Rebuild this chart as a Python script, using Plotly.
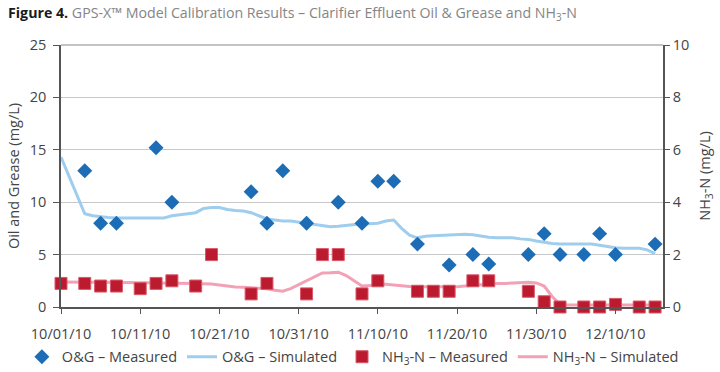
import pandas as pd
import plotly.graph_objects as go

start_date = "2010-10-01"

# O&G measured (day offset from 10/01/10, mg/L)
og_meas_days = [3, 5, 7, 12, 14, 24, 26, 28, 31, 35, 38, 40, 42, 45, 49, 52, 54, 59, 61, 63, 66, 68, 70, 75]
og_meas_vals = [13, 8, 8, 15.2, 10, 11, 8, 13, 8, 10, 8, 12, 12, 6, 4, 5, 4.1, 5, 7, 5, 5, 7, 5, 6]

# NH3-N measured
nh3_meas_days = [0, 3, 5, 7, 10, 12, 14, 17, 19, 24, 26, 31, 33, 35, 38, 40, 45, 47, 49, 52, 54, 59, 61, 63, 66, 68, 70, 73, 75]
nh3_meas_vals = [0.9, 0.9, 0.8, 0.8, 0.7, 0.9, 1.0, 0.8, 2.0, 0.5, 0.9, 0.5, 2.0, 2.0, 0.5, 1.0, 0.6, 0.6, 0.6, 1.0, 1.0, 0.6, 0.2, 0, 0, 0, 0.1, 0, 0]

# O&G simulated (daily)
og_sim_days = list(range(0, 76))
og_sim_vals = [14.3, 12.5, 10.6, 8.9, 8.7, 8.6, 8.55, 8.5, 8.5, 8.5,
               8.5, 8.5, 8.5, 8.5, 8.7, 8.8, 8.9, 9.0, 9.4, 9.5,
               9.5, 9.3, 9.2, 9.15, 9.0, 8.7, 8.4, 8.3, 8.2, 8.2,
               8.1, 8.0, 7.9, 7.75, 7.65, 7.7, 7.8, 7.9, 7.95, 7.95,
               8.0, 8.2, 8.3, 7.5, 6.85, 6.6, 6.75, 6.8, 6.85, 6.9,
               6.9, 6.95, 6.9, 6.75, 6.65, 6.6, 6.6, 6.6, 6.5, 6.45,
               6.3, 6.15, 6.05, 6.0, 6.0, 6.0, 6.0, 6.0, 5.9, 5.75,
               5.65, 5.6, 5.6, 5.6, 5.45, 5.1]

# NH3-N simulated (daily)
nh3_sim_days = list(range(0, 76))
nh3_sim_vals = [0.95, 0.95, 0.95, 0.95, 0.95, 0.95, 0.95, 0.94, 0.94, 0.93,
                0.93, 0.93, 0.92, 0.92, 0.92, 0.91, 0.9, 0.9, 0.89, 0.88,
                0.84, 0.8, 0.76, 0.75, 0.73, 0.72, 0.7, 0.64, 0.6, 0.7,
                0.85, 1.0, 1.18, 1.3, 1.31, 1.33, 1.2, 1.0, 0.8, 0.82,
                0.88, 0.87, 0.84, 0.8, 0.78, 0.77, 0.77, 0.77, 0.77, 0.77,
                0.77, 0.8, 0.83, 0.86, 0.88, 0.9, 0.9, 0.91, 0.92, 0.94,
                0.92, 0.8, 0.4, 0.1, 0.08, 0.08, 0.08, 0.08, 0.08, 0.08,
                0.08, 0.08, 0.08, 0.08, 0.08, 0.08]

x_ticks = ["10/01/10", "10/11/10", "10/21/10", "10/31/10", "11/10/10", "11/20/10", "11/30/10", "12/10/10"]


def to_dates(days):
    return pd.to_datetime(start_date) + pd.to_timedelta(days, unit="D")


FONT = "'Open Sans', Lato, sans-serif"
TXT = "#444444"
FS = 14.5

fig = go.Figure()

fig.add_trace(go.Scatter(
    x=to_dates(og_sim_days), y=og_sim_vals, mode="lines", name="O&amp;G – Simulated",
    line=dict(color="#9fcdee", width=3), yaxis="y", cliponaxis=False, legendrank=2))
fig.add_trace(go.Scatter(
    x=to_dates(nh3_sim_days), y=nh3_sim_vals, mode="lines", name="NH<sub>3</sub>-N – Simulated",
    line=dict(color="#f3a1b6", width=3), yaxis="y2", cliponaxis=False, legendrank=4))
fig.add_trace(go.Scatter(
    x=to_dates(og_meas_days), y=og_meas_vals, mode="markers", name="O&amp;G – Measured",
    marker=dict(symbol="diamond", size=11.5, color="#1c6db5", line=dict(width=0)),
    yaxis="y", cliponaxis=False, legendrank=1))
fig.add_trace(go.Scatter(
    x=to_dates(nh3_meas_days), y=nh3_meas_vals, mode="markers", name="NH<sub>3</sub>-N – Measured",
    marker=dict(symbol="square", size=12, color="#bc1a2e", line=dict(width=1, color="#d9596a")),
    yaxis="y2", cliponaxis=False, legendrank=3))

tick_vals = pd.to_datetime(x_ticks, format="%m/%d/%y")

fig.update_layout(
    width=720, height=372,
    margin=dict(l=61, r=57, t=45, b=65, autoexpand=False),
    paper_bgcolor="white", plot_bgcolor="white",
    font=dict(family=FONT, size=FS, color=TXT),
    title=dict(
        text="<b><span style='color:#1a1a1a'>Figure 4.</span></b> GPS-X™ Model Calibration Results – Clarifier Effluent Oil &amp; Grease and NH<sub>3</sub>-N",
        x=8 / 720, xref="container", xanchor="left", y=1 - 13 / 372, yref="container", yanchor="middle",
        font=dict(family=FONT, size=14.2, color="#858585")),
    xaxis=dict(
        type="date",
        range=[pd.Timestamp(start_date), pd.Timestamp("2010-12-16")],
        tickvals=tick_vals, ticktext=x_ticks,
        showgrid=False, showline=True, linecolor="#555", linewidth=1.5,
        ticks="outside", ticklen=5, tickcolor="#555", ticklabelstandoff=8,
        tickfont=dict(size=FS, color=TXT), zeroline=False, automargin=False),
    yaxis=dict(
        range=[0, 25], dtick=5,
        title=dict(text="Oil and Grease (mg/L)", font=dict(size=FS, color=TXT), standoff=7),
        showgrid=True, gridcolor="#c8c8c8", gridwidth=1,
        showline=True, linecolor="#555", linewidth=1.5,
        ticks="outside", ticklen=6, tickcolor="#555", ticklabelstandoff=4,
        tickfont=dict(size=FS, color=TXT), zeroline=False, automargin=False),
    yaxis2=dict(
        range=[0, 10], dtick=2, overlaying="y", side="right",
        title=dict(text="NH<sub>3</sub>-N (mg/L)", font=dict(size=FS, color=TXT), standoff=12),
        showgrid=False, showline=True, linecolor="#555", linewidth=1.5,
        ticks="outside", ticklen=5, tickcolor="#555",
        tickfont=dict(size=FS, color=TXT), zeroline=False, automargin=False),
    legend=dict(
        orientation="h", x=-0.065, xanchor="left", y=-0.129, yanchor="top",
        font=dict(size=FS, color=TXT), traceorder="normal",
        itemwidth=30, bgcolor="rgba(0,0,0,0)"),
    showlegend=True,
    shapes=[dict(type="line", xref="paper", yref="paper", x0=0, x1=1, y0=1, y1=1,
                 line=dict(color="#8a8a8a", width=1.2))],
)

fig.write_html("out.html", config={"displayModeBar": False},
               post_script="document.body.style.margin='0';")
